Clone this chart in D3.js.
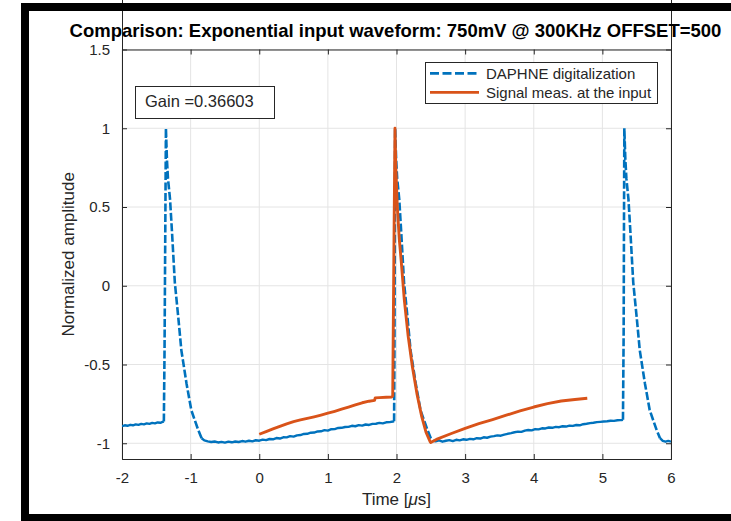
<!DOCTYPE html>
<html>
<head>
<meta charset="utf-8">
<script src="https://cdn.jsdelivr.net/npm/d3@7"></script>
<style>
  html, body { margin: 0; padding: 0; background: #fff; }
  svg { display: block; font-family: "Liberation Sans", Arial, sans-serif; }
</style>
</head>
<body>
<svg id="chart" width="731" height="521"></svg>
<script>
// ---------------- DATA ----------------
const titleText = "Comparison: Exponential input waveform: 750mV @ 300KHz OFFSET=500";
const xTicks = [-2, -1, 0, 1, 2, 3, 4, 5, 6];
const xTickLabels = ["-2", "-1", "0", "1", "2", "3", "4", "5", "6"];
const yTicks = [-1, -0.5, 0, 0.5, 1, 1.5];
const yTickLabels = ["-1", "-0.5", "0", "0.5", "1", "1.5"];
const seriesNames = ["DAPHNE digitalization", "Signal meas. at the input"];
const gainText = "Gain =0.36603";

// DAPHNE digitalization (blue, dashed)
const daphneTime = [
  -2.00, -1.96, -1.92, -1.88, -1.84, -1.80, -1.76, -1.72, -1.68, -1.64, -1.60, -1.56, -1.52, -1.48, -1.44, -1.41, -1.39,
  -1.38, -1.37, -1.36,
  -1.345, -1.33, -1.30, -1.27, -1.23, -1.18, -1.135, -1.06, -0.99, -0.89, -0.84, -0.80,
  -0.75, -0.70, -0.65, -0.60, -0.55, -0.50, -0.45, -0.40, -0.35, -0.30, -0.25, -0.20, -0.15, -0.10, -0.05,
  0.00, 0.05, 0.10, 0.15, 0.20, 0.25, 0.30, 0.35, 0.40, 0.45, 0.50, 0.55, 0.60, 0.65, 0.70, 0.75, 0.80, 0.85, 0.90, 0.95,
  1.00, 1.05, 1.10, 1.15, 1.20, 1.25, 1.30, 1.35, 1.40, 1.45, 1.50, 1.55, 1.60, 1.65, 1.70, 1.75, 1.80, 1.85, 1.90, 1.95, 1.965,
  1.97, 1.975, 1.98,
  1.995, 2.01, 2.04, 2.07, 2.11, 2.16, 2.205, 2.28, 2.35, 2.45, 2.50, 2.53,
  2.57, 2.62, 2.67, 2.72, 2.77, 2.82, 2.87, 2.92, 2.97, 3.02, 3.07, 3.12, 3.17, 3.22, 3.27, 3.32, 3.37, 3.42, 3.47,
  3.52, 3.57, 3.62, 3.67, 3.72, 3.77, 3.82, 3.87, 3.92, 3.97, 4.02, 4.07, 4.12, 4.17, 4.22, 4.27, 4.32, 4.37, 4.42, 4.47,
  4.52, 4.57, 4.62, 4.67, 4.72, 4.77, 4.82, 4.87, 4.92, 4.97, 5.02, 5.07, 5.12, 5.17, 5.22, 5.26, 5.29, 5.30,
  5.31, 5.315, 5.32,
  5.335, 5.35, 5.38, 5.41, 5.45, 5.50, 5.545, 5.62, 5.69, 5.79, 5.84, 5.88, 5.92, 5.96, 6.00
];
const daphneAmp = [
  -0.892, -0.886, -0.889, -0.883, -0.886, -0.880, -0.883, -0.877, -0.880, -0.874, -0.877, -0.871, -0.874, -0.868, -0.870, -0.865, -0.862,
  -0.40, 0.30, 1.00,
  0.80, 0.68, 0.55, 0.33, 0.02, -0.20, -0.41, -0.62, -0.79, -0.915, -0.968, -0.982,
  -0.988, -0.992, -0.989, -0.995, -0.991, -0.996, -0.990, -0.994, -0.989, -0.992, -0.986, -0.990, -0.984, -0.988, -0.981,
  -0.984, -0.977, -0.980, -0.973, -0.975, -0.967, -0.970, -0.962, -0.963, -0.955, -0.958, -0.950, -0.948, -0.941, -0.940, -0.933, -0.932, -0.925, -0.924, -0.917,
  -0.920, -0.911, -0.910, -0.903, -0.902, -0.897, -0.896, -0.889, -0.892, -0.885, -0.888, -0.881, -0.884, -0.877, -0.876, -0.871, -0.874, -0.867, -0.866, -0.862, -0.860,
  -0.40, 0.30, 1.00,
  0.80, 0.68, 0.55, 0.33, 0.02, -0.20, -0.41, -0.62, -0.79, -0.915, -0.968, -0.985,
  -0.988, -0.982, -0.990, -0.984, -0.980, -0.986, -0.978, -0.982, -0.975, -0.978, -0.972, -0.975, -0.968, -0.970, -0.962, -0.965, -0.958, -0.955, -0.950,
  -0.952, -0.945, -0.940, -0.936, -0.930, -0.926, -0.928, -0.920, -0.916, -0.918, -0.910, -0.912, -0.905, -0.906, -0.900, -0.902, -0.896, -0.898, -0.892, -0.894,
  -0.888, -0.890, -0.884, -0.886, -0.879, -0.876, -0.872, -0.870, -0.866, -0.864, -0.862, -0.860, -0.857, -0.858, -0.854, -0.853, -0.852, -0.851,
  -0.30, 0.40, 1.00,
  0.80, 0.68, 0.55, 0.33, 0.02, -0.20, -0.41, -0.62, -0.79, -0.915, -0.968, -0.985, -0.990, -0.985, -0.990
];

// Signal measured at the input (orange, solid)
const signalTime = [
  0.00, 0.10, 0.20, 0.30, 0.40, 0.50, 0.60, 0.70, 0.80, 0.90, 1.00, 1.10, 1.20, 1.30, 1.40, 1.50, 1.60, 1.68,
  1.69, 1.75, 1.85, 1.93, 1.945,
  1.96, 1.978,
  1.99, 2.012, 2.04, 2.07, 2.114, 2.17, 2.231, 2.30, 2.368, 2.43, 2.49, 2.50,
  2.60, 2.80, 3.00, 3.20, 3.40, 3.60, 3.80, 4.00, 4.20, 4.40, 4.60, 4.78
];
const signalAmp = [
  -0.943, -0.926, -0.909, -0.893, -0.877, -0.863, -0.852, -0.842, -0.832, -0.821, -0.809, -0.797, -0.784, -0.770, -0.756, -0.743, -0.733, -0.728,
  -0.712, -0.710, -0.708, -0.706, -0.700,
  0.10, 1.00,
  0.75, 0.50, 0.30, 0.15, -0.089, -0.32, -0.513, -0.69, -0.831, -0.93, -0.99, -0.995,
  -0.972, -0.938, -0.905, -0.876, -0.850, -0.822, -0.795, -0.770, -0.748, -0.732, -0.722, -0.714
];

// ---------------- CHART ----------------
const W = 731, H = 521;
const plot = { left: 122, right: 671, top: 49.5, bottom: 459 };
const blue = "#0072BD", orange = "#D95319", axisCol = "#262626", gridCol = "#e4e4e4";
const dashPattern = "8,2.5";

const svg = d3.select("#chart");
svg.append("rect").attr("width", W).attr("height", H).attr("fill", "#fff");

const x = d3.scaleLinear().domain([-2, 6]).range([plot.left, plot.right]);
const y = d3.scaleLinear().domain([-1.1, 1.5]).range([plot.bottom, plot.top]);

// grid
const grid = svg.append("g");
grid.selectAll(".gx").data(xTicks).join("line")
  .attr("x1", d => x(d)).attr("x2", d => x(d))
  .attr("y1", plot.top).attr("y2", plot.bottom)
  .attr("stroke", gridCol).attr("stroke-width", 1);
grid.selectAll(".gy").data(yTicks).join("line")
  .attr("y1", d => y(d)).attr("y2", d => y(d))
  .attr("x1", plot.left).attr("x2", plot.right)
  .attr("stroke", gridCol).attr("stroke-width", 1);

// axes (MATLAB box style, inward ticks)
const tickLen = 5;
const xAxisB = d3.axisBottom(x).tickValues(xTicks).tickSize(-tickLen).tickPadding(13)
  .tickFormat((d, i) => xTickLabels[i]);
const xAxisT = d3.axisTop(x).tickValues(xTicks).tickSize(-tickLen).tickFormat("");
const yAxisL = d3.axisLeft(y).tickValues(yTicks).tickSize(-tickLen).tickPadding(12)
  .tickFormat((d, i) => yTickLabels[i]);
const yAxisR = d3.axisRight(y).tickValues(yTicks).tickSize(-tickLen).tickFormat("");

function styleAxis(g) {
  g.selectAll("path").attr("stroke", axisCol).attr("stroke-width", 1);
  g.selectAll("line").attr("stroke", axisCol).attr("stroke-width", 1);
  g.selectAll("text").attr("fill", axisCol).style("font-size", "15px")
    .style("font-family", '"Liberation Sans", Arial, sans-serif');
}
svg.append("g").attr("transform", `translate(0,${plot.bottom})`).call(xAxisB).call(styleAxis);
svg.append("g").attr("transform", `translate(0,${plot.top})`).call(xAxisT).call(styleAxis);
svg.append("g").attr("transform", `translate(${plot.left},0)`).call(yAxisL).call(styleAxis);
svg.append("g").attr("transform", `translate(${plot.right},0)`).call(yAxisR).call(styleAxis);
svg.selectAll(".domain").attr("d", function() { return d3.select(this).attr("d").replace(/[VH]-?5/g, m => m[0] + "0"); });

// lines
svg.append("clipPath").attr("id", "clip").append("rect")
  .attr("x", plot.left).attr("y", plot.top)
  .attr("width", plot.right - plot.left).attr("height", plot.bottom - plot.top);

const line = d3.line().x(d => x(d[0])).y(d => y(d[1]));
const daphne = daphneTime.map((t, i) => [t, daphneAmp[i]]);
const signal = signalTime.map((t, i) => [t, signalAmp[i]]);

// split the blue trace into steep runs (dashes visible) and flat noisy runs (dashes merge visually)
const runs = [];
for (let i = 0; i < daphne.length - 1; i++) {
  const a = daphne[i], b = daphne[i + 1];
  const steep = Math.abs(y(b[1]) - y(a[1])) > 1.2 * Math.abs(x(b[0]) - x(a[0]));
  const last = runs[runs.length - 1];
  if (last && last.steep === steep) last.pts.push(b);
  else runs.push({ steep, pts: [a, b] });
}

const lines = svg.append("g").attr("clip-path", "url(#clip)");
runs.forEach(r => {
  lines.append("path").datum(r.pts).attr("d", line)
    .attr("fill", "none").attr("stroke", blue).attr("stroke-width", r.steep ? 2.6 : 2.4)
    .attr("stroke-dasharray", r.steep ? dashPattern : null).attr("stroke-linejoin", "round");
});
lines.append("path").datum(signal).attr("d", line)
  .attr("fill", "none").attr("stroke", orange).attr("stroke-width", 2.9)
  .attr("stroke-linejoin", "round");

// title
svg.append("text").attr("x", (plot.left + plot.right) / 2 - 1).attr("y", 36.5)
  .attr("text-anchor", "middle").attr("fill", "#000")
  .style("font-weight", "bold").style("font-size", "18.5px").text(titleText);

// axis labels
svg.append("text").attr("x", (plot.left + plot.right) / 2).attr("y", 505)
  .attr("text-anchor", "middle").attr("fill", axisCol).style("font-size", "17px")
  .call(t => {
    t.append("tspan").text("Time [");
    t.append("tspan").style("font-style", "italic").text("\u03BC");
    t.append("tspan").text("s]");
  });
svg.append("text")
  .attr("transform", `translate(74,${(plot.top + plot.bottom) / 2}) rotate(-90)`)
  .attr("text-anchor", "middle").attr("fill", axisCol).style("font-size", "17px")
  .text("Normalized amplitude");

// gain annotation box
svg.append("rect").attr("x", 135.5).attr("y", 86.5).attr("width", 139).attr("height", 32)
  .attr("fill", "#fff").attr("stroke", axisCol).attr("stroke-width", 1);
svg.append("text").attr("x", 145).attr("y", 107).attr("fill", axisCol)
  .style("font-size", "16.5px").text(gainText);

// legend
const lg = svg.append("g");
lg.append("rect").attr("x", 425.5).attr("y", 62.5).attr("width", 232).attr("height", 41)
  .attr("fill", "#fff").attr("stroke", axisCol).attr("stroke-width", 1);
const legendY = [73.3, 92.3];
const legendColors = [blue, orange];
const legendDash = ["9,3.5", null];
seriesNames.forEach((name, i) => {
  lg.append("line").attr("x1", 430).attr("x2", 479).attr("y1", legendY[i]).attr("y2", legendY[i])
    .attr("stroke", legendColors[i]).attr("stroke-width", 2.7)
    .attr("stroke-dasharray", legendDash[i]);
  lg.append("text").attr("x", 486).attr("y", legendY[i] + 5.2).attr("fill", axisCol)
    .style("font-size", "15px").text(name);
});

// black frame (cropped screenshot border)
svg.append("rect").attr("x", 21).attr("y", 3).attr("width", 8).attr("height", 518).attr("fill", "#000");
svg.append("rect").attr("x", 21).attr("y", 3).attr("width", 710).attr("height", 8).attr("fill", "#000");
svg.append("rect").attr("x", 21).attr("y", 514).attr("width", 710).attr("height", 7).attr("fill", "#000");
</script>
</body>
</html>
